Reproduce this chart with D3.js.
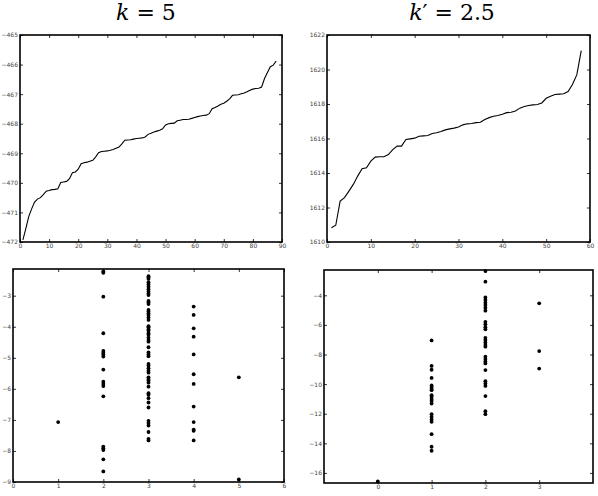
<!DOCTYPE html>
<html>
<head>
<meta charset="utf-8">
<script src="https://cdn.jsdelivr.net/npm/d3@7.9.0/dist/d3.min.js"></script>
<style>
  body { margin: 0; background: #fff; }
  svg { display: block; }
  .tick text { font-family: "DejaVu Sans", sans-serif; font-size: 6px; fill: #444; }
  .title { font-family: "DejaVu Serif", serif; font-size: 22px; fill: #000; }
</style>
</head>
<body>
<svg id="chart" width="598" height="496"></svg>
<script>
// sorted log-likelihood, k = 5 (x = 1..88)
const llK = [
  -471.93, -471.55, -471.14, -470.88, -470.65, -470.55, -470.50, -470.40, -470.28, -470.26,
  -470.23, -470.22, -470.20, -469.99, -469.97, -469.95, -469.86, -469.66, -469.63, -469.54,
  -469.35, -469.32, -469.30, -469.27, -469.24, -469.12, -468.98, -468.94, -468.93, -468.92,
  -468.90, -468.87, -468.83, -468.79, -468.68, -468.56, -468.55, -468.54, -468.52, -468.50,
  -468.49, -468.48, -468.45, -468.36, -468.32, -468.28, -468.25, -468.22, -468.17, -468.04,
  -468.00, -467.99, -467.98, -467.90, -467.88, -467.86, -467.86, -467.85, -467.82, -467.79,
  -467.76, -467.74, -467.72, -467.71, -467.66, -467.49, -467.45, -467.40, -467.34, -467.31,
  -467.24, -467.16, -467.04, -467.03, -467.02, -466.99, -466.96, -466.92, -466.87, -466.83,
  -466.81, -466.80, -466.76, -466.47, -466.27, -466.07, -466.02, -465.88
];

// sorted values, k' = 2.5 (x = 1..58)
const llKp = [
  1610.83, 1610.97, 1612.37, 1612.57, 1612.95, 1613.34, 1613.82, 1614.25, 1614.30, 1614.69,
  1614.92, 1614.94, 1614.94, 1615.07, 1615.36, 1615.56, 1615.56, 1615.94, 1615.98, 1616.02,
  1616.13, 1616.15, 1616.17, 1616.29, 1616.33, 1616.40, 1616.50, 1616.56, 1616.60, 1616.67,
  1616.79, 1616.85, 1616.87, 1616.92, 1616.94, 1617.10, 1617.21, 1617.29, 1617.33, 1617.41,
  1617.50, 1617.52, 1617.60, 1617.76, 1617.85, 1617.91, 1617.95, 1617.97, 1618.06, 1618.33,
  1618.45, 1618.55, 1618.57, 1618.59, 1618.72, 1619.13, 1619.70, 1621.09
];

// scatter, k = 5: [category, value]
const scatK = [
  [1, -7.07],
  [2, -2.22], [2, -2.26], [2, -3.03], [2, -4.21], [2, -4.78], [2, -4.84], [2, -4.89], [2, -4.96],
  [2, -5.38], [2, -5.77], [2, -5.84], [2, -5.91], [2, -6.24], [2, -7.86], [2, -7.91], [2, -7.97],
  [2, -8.27], [2, -8.66],
  [3, -2.37], [3, -2.41], [3, -2.46], [3, -2.57], [3, -2.64], [3, -2.71], [3, -2.79], [3, -2.87],
  [3, -2.93], [3, -2.98], [3, -3.17], [3, -3.21], [3, -3.27], [3, -3.46], [3, -3.51], [3, -3.57],
  [3, -3.62], [3, -3.70], [3, -3.78], [3, -3.98], [3, -4.02], [3, -4.08], [3, -4.13], [3, -4.21],
  [3, -4.26], [3, -4.35], [3, -4.43], [3, -4.48], [3, -4.66], [3, -4.83], [3, -4.89], [3, -4.95],
  [3, -5.20], [3, -5.25], [3, -5.34], [3, -5.42], [3, -5.48], [3, -5.63], [3, -5.68], [3, -5.73],
  [3, -5.80], [3, -5.93], [3, -6.14], [3, -6.19], [3, -6.30], [3, -6.44], [3, -6.60], [3, -7.03],
  [3, -7.10], [3, -7.18], [3, -7.39], [3, -7.61], [3, -7.66],
  [4, -3.35], [4, -3.62], [4, -4.05], [4, -4.32], [4, -4.89], [4, -5.53], [4, -5.84], [4, -6.57],
  [4, -7.07], [4, -7.31], [4, -7.35], [4, -7.66],
  [5, -5.63], [5, -8.92]
];

// scatter, k' = 2.5
const scatKp = [
  [0, -16.58],
  [1, -7.05], [1, -8.77], [1, -9.03], [1, -9.58], [1, -10.09], [1, -10.20], [1, -10.32], [1, -10.41],
  [1, -10.75], [1, -10.86], [1, -11.00], [1, -11.13], [1, -11.31], [1, -12.03], [1, -12.21],
  [1, -12.39], [1, -12.55], [1, -13.38], [1, -14.23], [1, -14.50],
  [2, -2.36], [2, -3.08], [2, -4.14], [2, -4.32], [2, -4.50], [2, -4.66], [2, -4.84], [2, -5.04],
  [2, -5.79], [2, -5.96], [2, -6.15], [2, -6.30], [2, -6.87], [2, -7.02], [2, -7.18], [2, -7.36],
  [2, -7.47], [2, -8.15], [2, -8.31], [2, -8.47], [2, -8.60], [2, -9.05], [2, -9.80], [2, -9.96],
  [2, -10.12], [2, -10.81], [2, -11.83], [2, -12.03],
  [3, -4.54], [3, -7.77], [3, -8.95]
];

const titles = ["k", " = 5", "k", "′ = 2.5"];

const svg = d3.select("#chart");

function panel(box, xDom, yDom, xTicks, yTicks) {
  const x = d3.scaleLinear().domain(xDom).range([box.x0, box.x1]);
  const y = d3.scaleLinear().domain(yDom).range([box.y1, box.y0]);
  const g = svg.append("g");
  const fmt = d3.format("d");

  g.append("g").attr("transform", `translate(0,${box.y1})`)
    .call(d3.axisBottom(x).tickValues(xTicks).tickFormat(fmt).tickSizeInner(-3).tickSizeOuter(0).tickPadding(2));
  g.append("g").attr("transform", `translate(0,${box.y0})`)
    .call(d3.axisTop(x).tickValues(xTicks).tickFormat("").tickSizeInner(-3).tickSizeOuter(0));
  g.append("g").attr("transform", `translate(${box.x0},0)`)
    .call(d3.axisLeft(y).tickValues(yTicks).tickFormat(fmt).tickSizeInner(-3).tickSizeOuter(0).tickPadding(2));
  g.append("g").attr("transform", `translate(${box.x1},0)`)
    .call(d3.axisRight(y).tickValues(yTicks).tickFormat("").tickSizeInner(-3).tickSizeOuter(0));
  g.selectAll(".domain").remove();
  g.selectAll(".tick line").attr("stroke", "#000").attr("stroke-width", 0.8);

  g.append("rect")
    .attr("x", box.x0).attr("y", box.y0)
    .attr("width", box.x1 - box.x0).attr("height", box.y1 - box.y0)
    .attr("fill", "none").attr("stroke", "#000").attr("stroke-width", 1.6);
  return { g, x, y };
}

function drawLine(p, vals) {
  const line = d3.line().x((d, i) => p.x(i + 1)).y(d => p.y(d));
  p.g.append("path").datum(vals)
    .attr("d", line).attr("fill", "none").attr("stroke", "#000").attr("stroke-width", 1.1);
}

function drawDots(p, pts) {
  p.g.selectAll("circle.pt").data(pts).join("circle")
    .attr("class", "pt")
    .attr("cx", d => p.x(d[0])).attr("cy", d => p.y(d[1]))
    .attr("r", 1.9).attr("fill", "#000");
}

const tl = panel({ x0: 20, x1: 282, y0: 35, y1: 242 }, [0, 90], [-472, -465],
  d3.range(0, 91, 10), d3.range(-472, -464, 1));
drawLine(tl, llK);

const tr = panel({ x0: 327, x1: 590, y0: 35, y1: 242 }, [0, 60], [1610, 1622],
  d3.range(0, 61, 10), d3.range(1610, 1623, 2));
drawLine(tr, llKp);

const bl = panel({ x0: 13, x1: 284, y0: 269, y1: 482 }, [0, 6], [-9, -2.14],
  d3.range(0, 7, 1), d3.range(-9, -2, 1));
drawDots(bl, scatK);

const br = panel({ x0: 324, x1: 593, y0: 270, y1: 483 }, [-1, 4], [-16.68, -2.29],
  d3.range(0, 4, 1), d3.range(-16, -3, 2));
drawDots(br, scatKp);

function title(cx, a, b) {
  const t = svg.append("text").attr("class", "title")
    .attr("x", cx).attr("y", 20).attr("text-anchor", "middle");
  t.append("tspan").attr("font-style", "italic").text(a);
  t.append("tspan").text(b);
}
title(146, titles[0], titles[1]);
title(452, titles[2], titles[3]);
</script>
</body>
</html>
